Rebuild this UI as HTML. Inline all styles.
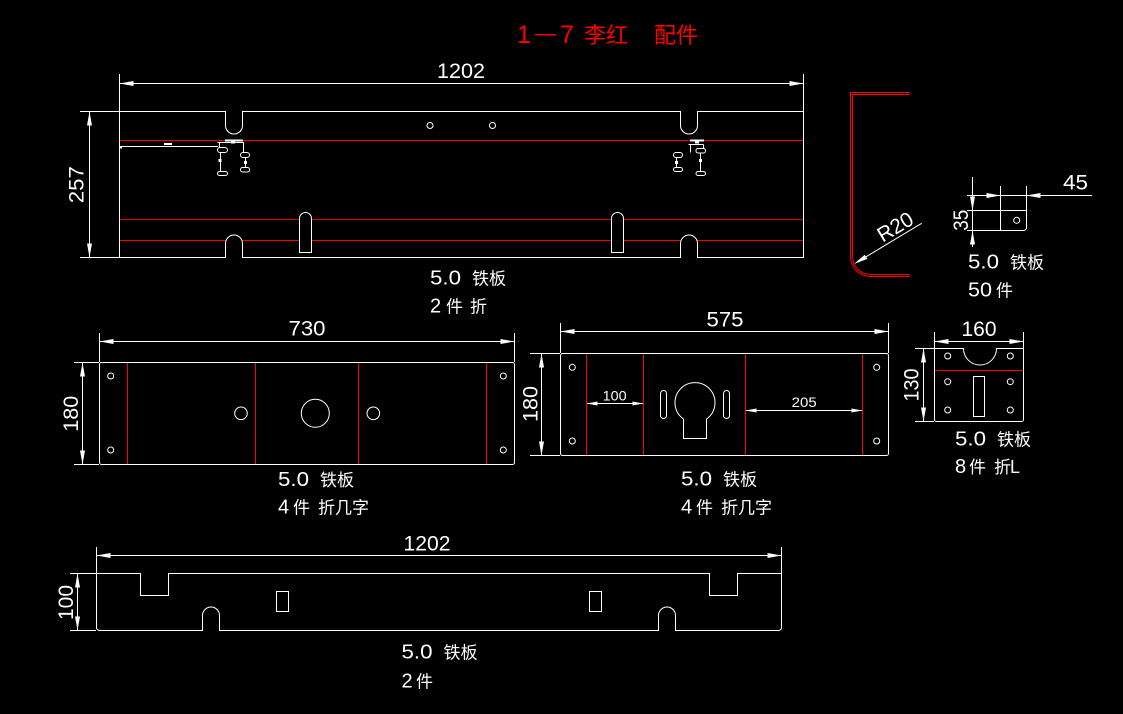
<!DOCTYPE html>
<html><head><meta charset="utf-8"><style>
html,body{margin:0;padding:0;background:#000;}
svg{display:block;}
text{font-family:"Liberation Sans","Noto Sans CJK SC",sans-serif;fill:#fff;}
.cn{font-family:"Noto Sans CJK SC","WenQuanYi Zen Hei",sans-serif;}
</style></head><body>
<svg width="1123" height="714" viewBox="0 0 1123 714" xmlns="http://www.w3.org/2000/svg">
<rect width="1123" height="714" fill="#000"/>

<!-- Title -->
<g fill="#f00">
<text x="517" y="43" font-size="25" style="fill:#f00">1</text>
<rect x="535" y="34" width="21" height="1.5" fill="#f00"/>
<text x="560" y="43" font-size="25" style="fill:#f00">7</text>
<text x="584" y="43" font-size="22" class="cn" style="fill:#f00">李红</text>
<text x="654" y="43" font-size="22" class="cn" style="fill:#f00">配件</text>
</g>

<g stroke="#fff" stroke-width="1" fill="none">
<!-- ===== Top panel 1202 x 257 ===== -->
<line x1="119.5" y1="74" x2="119.5" y2="111" shape-rendering="crispEdges"/>
<line x1="803.5" y1="74" x2="803.5" y2="111" shape-rendering="crispEdges"/>
<line x1="119.5" y1="83.5" x2="803.5" y2="83.5" shape-rendering="crispEdges"/>
<line x1="80" y1="111.5" x2="119" y2="111.5" shape-rendering="crispEdges"/>
<line x1="80" y1="257.5" x2="119" y2="257.5" shape-rendering="crispEdges"/>
<line x1="89.5" y1="111.5" x2="89.5" y2="257.5" shape-rendering="crispEdges"/>
</g>
<!-- red lines top panel -->
<g stroke="#f00" stroke-width="1" shape-rendering="crispEdges">
<line x1="119.5" y1="140.5" x2="803.5" y2="140.5"/>
<line x1="119.5" y1="219.5" x2="803.5" y2="219.5" stroke="#d00"/>
<line x1="119.5" y1="240.5" x2="225.5" y2="240.5"/>
<line x1="242.5" y1="240.5" x2="680.5" y2="240.5"/>
<line x1="697.5" y1="240.5" x2="803.5" y2="240.5"/>
</g>
<g stroke="#fff" stroke-width="1" fill="none">
<path d="M119.5,111.5 H225.5 V125.5 A8.5 8.5 0 0 0 242.5 125.5 V111.5 H680.5 V125.5 A8.5 8.5 0 0 0 697.5 125.5 V111.5 H803.5 V257.5 H697.5 V243.5 A8.5 8.5 0 0 0 680.5 243.5 V257.5 H242.5 V243.5 A8.5 8.5 0 0 0 225.5 243.5 V257.5 H119.5 Z"/>
<path d="M299.5,252.5 V218.5 A6 6 0 0 1 311.5 218.5 V252.5 Z" fill="#000"/>
<path d="M611.5,252.5 V218.5 A6 6 0 0 1 623.5 218.5 V252.5 Z" fill="#000"/>
<circle cx="430" cy="125.5" r="3"/>
<circle cx="492.5" cy="125.5" r="3"/>
<!-- left bracket -->
<line x1="120" y1="146.5" x2="218" y2="146.5" shape-rendering="crispEdges"/>
<line x1="217.5" y1="142.5" x2="243.5" y2="142.5" shape-rendering="crispEdges"/>
<line x1="219.5" y1="142.5" x2="219.5" y2="147.5" shape-rendering="crispEdges"/>
<rect x="217.5" y="147.5" width="10" height="5" rx="2.5"/>
<line x1="220.5" y1="152.5" x2="220.5" y2="171.5" shape-rendering="crispEdges"/>
<rect x="217.5" y="171.5" width="10" height="4" rx="2"/>
<line x1="243.5" y1="142.5" x2="243.5" y2="152.5" shape-rendering="crispEdges"/>
<rect x="240.5" y="152.5" width="9" height="5" rx="2.5"/>
<line x1="245.5" y1="157.5" x2="245.5" y2="167.5" shape-rendering="crispEdges"/>
<rect x="240.5" y="167.5" width="9" height="4.5" rx="2"/>
<!-- right bracket -->
<line x1="688.5" y1="144.5" x2="703.5" y2="144.5" shape-rendering="crispEdges"/>
<line x1="690.5" y1="144.5" x2="690.5" y2="152.5" shape-rendering="crispEdges"/>
<rect x="673.5" y="152.5" width="9" height="5" rx="2.5"/>
<line x1="676.5" y1="157.5" x2="676.5" y2="167.5" shape-rendering="crispEdges"/>
<rect x="673.5" y="167.5" width="9" height="4" rx="2"/>
<line x1="703.5" y1="144.5" x2="703.5" y2="148.5" shape-rendering="crispEdges"/>
<rect x="696" y="148.5" width="9.5" height="4.5" rx="2"/>
<line x1="700.5" y1="153" x2="700.5" y2="171.5" shape-rendering="crispEdges"/>
<rect x="696" y="171.5" width="9.5" height="4" rx="2"/>
</g>
<g fill="#fff">
<rect x="225" y="139.5" width="18" height="2"/>
<rect x="231" y="141" width="4" height="2.5"/>
<rect x="690" y="139.5" width="14" height="2"/>
<rect x="695" y="141" width="4" height="2.5"/>
<rect x="164" y="143" width="8" height="2"/>
<rect x="218.5" y="159" width="3" height="3"/>
<rect x="244" y="161" width="3" height="3"/>
<rect x="675" y="161" width="3" height="3"/>
<rect x="699" y="159" width="3" height="3"/>
<rect x="120" y="147" width="2" height="1.5"/>
</g>

<!-- ===== R20 profile ===== -->
<g stroke="#f00" stroke-width="1" fill="none">
<path d="M910,92.5 H850.5 V256.5 A20 20 0 0 0 870.5 276.5 H910"/>
<path d="M910,94.5 H852.5 V256.5 A18 18 0 0 0 870.5 274.5 H910"/>
</g>
<line x1="921.7" y1="223.3" x2="860" y2="260.4" stroke="#fff" stroke-width="1"/>
<polygon points="854,264 867.3,258.9 864.7,254.7" fill="#fff"/>
<g transform="translate(895,226.5) rotate(-31)"><text x="0" y="7.5" font-size="21" text-anchor="middle" textLength="38" lengthAdjust="spacingAndGlyphs">R20</text></g>

<!-- ===== small part 45 x 35 ===== -->
<g stroke="#fff" stroke-width="1" fill="none" shape-rendering="crispEdges">
<line x1="1000.5" y1="186" x2="1000.5" y2="210"/>
<line x1="1026.5" y1="186" x2="1026.5" y2="210"/>
<line x1="967" y1="195.5" x2="1092" y2="195.5"/>
<line x1="967" y1="210.5" x2="1000" y2="210.5"/>
<line x1="967" y1="230.5" x2="1000" y2="230.5"/>
<line x1="972.5" y1="177" x2="972.5" y2="247"/>
</g>
<path d="M1000.5,210.5 H1026.5 V227.5 A3 3 0 0 1 1023.5 230.5 H1000.5 Z" stroke="#fff" stroke-width="1" fill="none"/>
<circle cx="1016.7" cy="220.3" r="3" stroke="#fff" stroke-width="1" fill="none"/>
<g fill="#fff">
<polygon points="1000.5,195.5 986.5,193 986.5,198"/>
<polygon points="1026.5,195.5 1040.5,193 1040.5,198"/>
<polygon points="972.5,210.5 970,196.5 975,196.5"/>
<polygon points="972.5,230.5 970,244.5 975,244.5"/>
</g>
<text x="1075.5" y="189.5" font-size="21" text-anchor="middle" textLength="25" lengthAdjust="spacingAndGlyphs">45</text>
<g transform="translate(960.5,220.3) rotate(-90)"><text x="0" y="7.5" font-size="21" text-anchor="middle" textLength="21" lengthAdjust="spacingAndGlyphs">35</text></g>
<text x="968" y="268.5" font-size="20" textLength="31" lengthAdjust="spacingAndGlyphs">5.0</text>
<text x="1010" y="268.5" font-size="17" class="cn">铁板</text>
<text x="968" y="296.5" font-size="20" textLength="24" lengthAdjust="spacingAndGlyphs">50</text>
<text x="996" y="296.5" font-size="17" class="cn">件</text>

<!-- Top panel texts -->
<text x="461" y="78" font-size="21" text-anchor="middle" textLength="48" lengthAdjust="spacingAndGlyphs">1202</text>
<g transform="translate(76,184.7) rotate(-90)"><text x="0" y="7.5" font-size="21" text-anchor="middle" textLength="37" lengthAdjust="spacingAndGlyphs">257</text></g>
<g fill="#fff">
<polygon points="119.5,83.5 133.5,81 133.5,86"/>
<polygon points="803.5,83.5 789.5,81 789.5,86"/>
<polygon points="89.5,111.5 87,125.5 92,125.5"/>
<polygon points="89.5,257.5 87,243.5 92,243.5"/>
</g>
<text x="430" y="284.5" font-size="20" textLength="31" lengthAdjust="spacingAndGlyphs">5.0</text>
<text x="472" y="284.5" font-size="17" class="cn">铁板</text>
<text x="430" y="312.5" font-size="20">2</text>
<text x="446" y="312.5" font-size="17" class="cn">件</text>
<text x="470" y="312.5" font-size="17" class="cn">折</text>

<!-- ===== Middle-left panel 730 x 180 ===== -->
<g stroke="#fff" stroke-width="1" fill="none" shape-rendering="crispEdges">
<line x1="99.5" y1="333" x2="99.5" y2="362"/>
<line x1="514.5" y1="333" x2="514.5" y2="362"/>
<line x1="99.5" y1="341.5" x2="514.5" y2="341.5"/>
<line x1="74" y1="362.5" x2="99" y2="362.5"/>
<line x1="74" y1="464.5" x2="99" y2="464.5"/>
<line x1="82.5" y1="362.5" x2="82.5" y2="464.5"/>
</g>
<rect x="99.5" y="362.5" width="415" height="102" rx="2" stroke="#fff" stroke-width="1" fill="none"/>
<g stroke="#f00" stroke-width="1" shape-rendering="crispEdges">
<line x1="127.5" y1="363" x2="127.5" y2="464"/>
<line x1="255.5" y1="363" x2="255.5" y2="464"/>
<line x1="358.5" y1="363" x2="358.5" y2="464"/>
<line x1="486.5" y1="363" x2="486.5" y2="464"/>
</g>
<g stroke="#fff" stroke-width="1" fill="none">
<circle cx="110.7" cy="376" r="3"/>
<circle cx="110.7" cy="450" r="3"/>
<circle cx="503.3" cy="376" r="3"/>
<circle cx="503.3" cy="450" r="3"/>
<circle cx="241" cy="413.3" r="6.3"/>
<circle cx="373.3" cy="413.3" r="6.3"/>
<circle cx="315.3" cy="413.3" r="14"/>
</g>
<g fill="#fff">
<polygon points="99.5,341.5 113.5,339 113.5,344"/>
<polygon points="514.5,341.5 500.5,339 500.5,344"/>
<polygon points="82.5,362.5 80,376.5 85,376.5"/>
<polygon points="82.5,464.5 80,450.5 85,450.5"/>
</g>
<text x="307" y="335.5" font-size="21" text-anchor="middle" textLength="37" lengthAdjust="spacingAndGlyphs">730</text>
<g transform="translate(70.7,413.8) rotate(-90)"><text x="0" y="7.5" font-size="21" text-anchor="middle" textLength="36" lengthAdjust="spacingAndGlyphs">180</text></g>
<text x="278" y="486" font-size="20" textLength="31" lengthAdjust="spacingAndGlyphs">5.0</text>
<text x="320" y="486" font-size="17" class="cn">铁板</text>
<text x="278" y="513.5" font-size="20">4</text>
<text x="293" y="513.5" font-size="17" class="cn">件</text>
<text x="318" y="513.5" font-size="17" class="cn">折几字</text>

<!-- ===== Middle-right panel 575 x 180 ===== -->
<g stroke="#fff" stroke-width="1" fill="none" shape-rendering="crispEdges">
<line x1="560.5" y1="323" x2="560.5" y2="353"/>
<line x1="888.5" y1="323" x2="888.5" y2="353"/>
<line x1="560.5" y1="331.5" x2="888.5" y2="331.5"/>
<line x1="530" y1="353.5" x2="560" y2="353.5"/>
<line x1="530" y1="455.5" x2="560" y2="455.5"/>
<line x1="541.5" y1="353.5" x2="541.5" y2="455.5"/>
<line x1="586.5" y1="403.5" x2="643.5" y2="403.5"/>
<line x1="745.5" y1="410.5" x2="862.5" y2="410.5"/>
</g>
<rect x="560.5" y="353.5" width="328" height="102" rx="2" stroke="#fff" stroke-width="1" fill="none"/>
<g stroke="#f00" stroke-width="1" shape-rendering="crispEdges">
<line x1="586.5" y1="354" x2="586.5" y2="455"/>
<line x1="643.5" y1="354" x2="643.5" y2="455"/>
<line x1="745.5" y1="354" x2="745.5" y2="455"/>
<line x1="862.5" y1="354" x2="862.5" y2="455"/>
</g>
<g stroke="#fff" stroke-width="1" fill="none">
<circle cx="572.3" cy="367.3" r="3"/>
<circle cx="572.3" cy="441" r="3"/>
<circle cx="876.7" cy="367.3" r="3"/>
<circle cx="876.7" cy="441" r="3"/>
<path d="M683.5,419 A20 20 0 1 1 706.5 419 V438.5 H683.5 Z"/>
<rect x="660.5" y="390.5" width="6" height="28" rx="3"/>
<rect x="723.5" y="390.5" width="6" height="28" rx="3"/>
</g>
<g fill="#fff">
<polygon points="560.5,331.5 574.5,329 574.5,334"/>
<polygon points="888.5,331.5 874.5,329 874.5,334"/>
<polygon points="541.5,353.5 539,367.5 544,367.5"/>
<polygon points="541.5,455.5 539,441.5 544,441.5"/>
<polygon points="586.5,403.5 597.5,401.5 597.5,405.5"/>
<polygon points="643.5,403.5 632.5,401.5 632.5,405.5"/>
<polygon points="745.5,410.5 756.5,408.5 756.5,412.5"/>
<polygon points="862.5,410.5 851.5,408.5 851.5,412.5"/>
</g>
<text x="725" y="326.7" font-size="21" text-anchor="middle" textLength="37" lengthAdjust="spacingAndGlyphs">575</text>
<g transform="translate(530,404) rotate(-90)"><text x="0" y="7.5" font-size="21" text-anchor="middle" textLength="36" lengthAdjust="spacingAndGlyphs">180</text></g>
<text x="614.7" y="400.5" font-size="14" text-anchor="middle" textLength="24" lengthAdjust="spacingAndGlyphs">100</text>
<text x="804.2" y="407" font-size="14" text-anchor="middle" textLength="25" lengthAdjust="spacingAndGlyphs">205</text>
<text x="681" y="485.5" font-size="20" textLength="31" lengthAdjust="spacingAndGlyphs">5.0</text>
<text x="723" y="485.5" font-size="17" class="cn">铁板</text>
<text x="681" y="513.5" font-size="20">4</text>
<text x="696" y="513.5" font-size="17" class="cn">件</text>
<text x="721" y="513.5" font-size="17" class="cn">折几字</text>

<!-- ===== Small panel 160 x 130 ===== -->
<g stroke="#fff" stroke-width="1" fill="none" shape-rendering="crispEdges">
<line x1="934.5" y1="332" x2="934.5" y2="348"/>
<line x1="1023.5" y1="332" x2="1023.5" y2="348"/>
<line x1="934.5" y1="341.5" x2="1023.5" y2="341.5"/>
<line x1="915" y1="348.5" x2="934" y2="348.5"/>
<line x1="915" y1="421.5" x2="934" y2="421.5"/>
<line x1="923.5" y1="348.5" x2="923.5" y2="421.5"/>
</g>
<path d="M934.5,348.5 H963.5 A16.5 16.5 0 0 0 996.5 348.5 H1023.5 V419.5 A2 2 0 0 1 1021.5 421.5 H936.5 A2 2 0 0 1 934.5 419.5 Z" stroke="#fff" stroke-width="1" fill="none"/>
<line x1="935" y1="370.5" x2="1023" y2="370.5" stroke="#f00" stroke-width="1" shape-rendering="crispEdges"/>
<g stroke="#fff" stroke-width="1" fill="none">
<circle cx="947.7" cy="356" r="3"/>
<circle cx="1010.3" cy="356" r="3"/>
<circle cx="947.7" cy="381.7" r="3"/>
<circle cx="1010.3" cy="381.7" r="3"/>
<circle cx="947.7" cy="410" r="3"/>
<circle cx="1010.3" cy="410" r="3"/>
<rect x="973.5" y="376.5" width="11" height="40"/>
</g>
<g fill="#fff">
<polygon points="934.5,341.5 948.5,339 948.5,344"/>
<polygon points="1023.5,341.5 1009.5,339 1009.5,344"/>
<polygon points="923.5,348.5 921,362.5 926,362.5"/>
<polygon points="923.5,421.5 921,407.5 926,407.5"/>
</g>
<text x="979" y="336" font-size="21" text-anchor="middle" textLength="35" lengthAdjust="spacingAndGlyphs">160</text>
<g transform="translate(911,385) rotate(-90)"><text x="0" y="7.5" font-size="21" text-anchor="middle" textLength="33" lengthAdjust="spacingAndGlyphs">130</text></g>
<text x="955" y="445.5" font-size="20" textLength="31" lengthAdjust="spacingAndGlyphs">5.0</text>
<text x="997" y="445.5" font-size="17" class="cn">铁板</text>
<text x="955" y="473" font-size="20">8</text>
<text x="969" y="473" font-size="17" class="cn">件</text>
<text x="994" y="473" font-size="17" class="cn">折</text>
<text x="1010" y="473" font-size="18">L</text>

<!-- ===== Bottom panel 1202 x 100 ===== -->
<g stroke="#fff" stroke-width="1" fill="none" shape-rendering="crispEdges">
<line x1="96.5" y1="547" x2="96.5" y2="573"/>
<line x1="781.5" y1="547" x2="781.5" y2="573"/>
<line x1="96.5" y1="555.5" x2="781.5" y2="555.5"/>
<line x1="70" y1="573.5" x2="96" y2="573.5"/>
<line x1="70" y1="630.5" x2="96" y2="630.5"/>
<line x1="77.5" y1="573.5" x2="77.5" y2="630.5"/>
</g>
<path d="M96.5,573.5 H140.5 V595.5 H168.5 V573.5 H709.5 V595.5 H737.5 V573.5 H781.5 V627.5 A3 3 0 0 1 778.5 630.5 H675.5 V615.5 A8.5 8.5 0 0 0 658.5 615.5 V630.5 H219.5 V615.5 A8.5 8.5 0 0 0 202.5 615.5 V630.5 H99.5 A3 3 0 0 1 96.5 627.5 Z" stroke="#fff" stroke-width="1" fill="none"/>
<rect x="276.5" y="591.5" width="12" height="20" stroke="#fff" stroke-width="1" fill="none"/>
<rect x="589.5" y="591.5" width="12" height="20" stroke="#fff" stroke-width="1" fill="none"/>
<g fill="#fff">
<polygon points="96.5,555.5 110.5,553 110.5,558"/>
<polygon points="781.5,555.5 767.5,553 767.5,558"/>
<polygon points="77.5,573.5 75,587.5 80,587.5"/>
<polygon points="77.5,630.5 75,616.5 80,616.5"/>
</g>
<text x="427" y="550.5" font-size="21" text-anchor="middle" textLength="47" lengthAdjust="spacingAndGlyphs">1202</text>
<g transform="translate(65.3,602.5) rotate(-90)"><text x="0" y="7.5" font-size="21" text-anchor="middle" textLength="35" lengthAdjust="spacingAndGlyphs">100</text></g>
<text x="401.5" y="658.5" font-size="20" textLength="31" lengthAdjust="spacingAndGlyphs">5.0</text>
<text x="443.5" y="658.5" font-size="17" class="cn">铁板</text>
<text x="401.5" y="687.5" font-size="20">2</text>
<text x="416" y="687.5" font-size="17" class="cn">件</text>
</svg>
</body></html>
